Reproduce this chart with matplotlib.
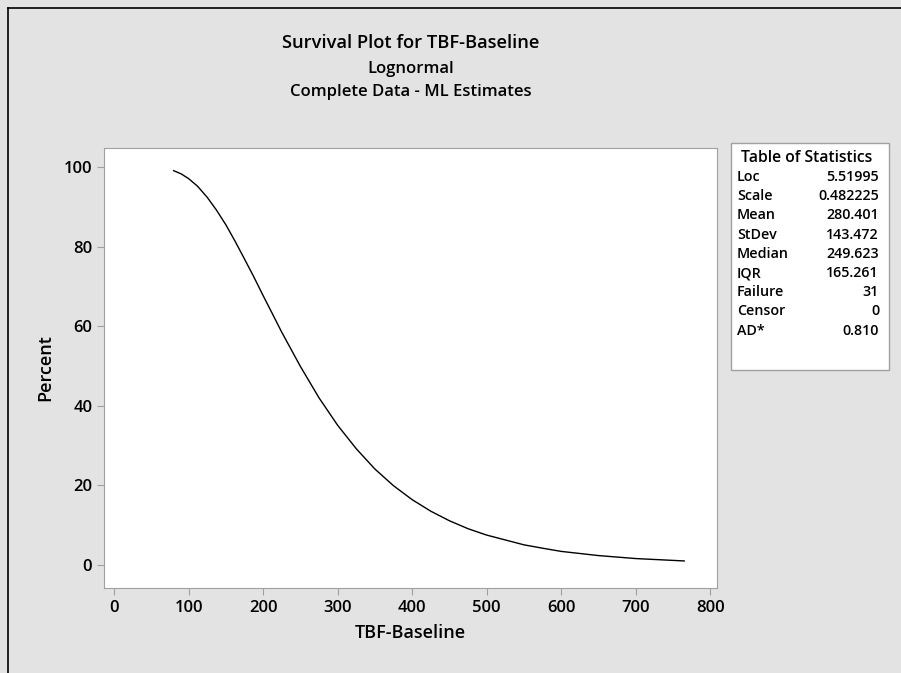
import matplotlib.pyplot as plt
from matplotlib.patches import Rectangle
from matplotlib.lines import Line2D

# curve (TBF-Baseline vs survival percent)
tbf = [80, 90, 100, 112, 125, 137, 150, 162, 175, 187, 200, 212, 225, 250,
       275, 300, 325, 350, 375, 400, 425, 450, 475, 500, 550, 575, 600, 650,
       700, 765]
percent = [99.1, 98.3, 97.1, 95.2, 92.4, 89.3, 85.5, 81.5, 76.9, 72.6, 67.7,
           63.3, 58.5, 49.9, 42.0, 35.1, 29.2, 24.1, 19.9, 16.4, 13.5, 11.1,
           9.1, 7.5, 5.05, 4.2, 3.4, 2.35, 1.6, 1.0]

xticks = [0, 100, 200, 300, 400, 500, 600, 700, 800]
yticks = [0, 20, 40, 60, 80, 100]

stat_names = ["Loc", "Scale", "Mean", "StDev", "Median", "IQR", "Failure",
              "Censor", "AD*"]
stat_values = ["5.51995", "0.482225", "280.401", "143.472", "249.623",
               "165.261", "31", "0", "0.810"]

plt.rcParams['font.family'] = ['Open Sans', 'DejaVu Sans']
W, H = 901, 673
fig = plt.figure(figsize=(W / 100, H / 100), dpi=100, facecolor='#e3e3e3')

def fx(px):
    return px / W

def fy(py):
    return 1 - py / H

ax = fig.add_axes([fx(104), fy(588), (717 - 104) / W, (588 - 148) / H])
ax.set_facecolor('white')
ax.plot(tbf, percent, color='black', lw=1.0)
ax.set_xlim(-13.5, 809)
ax.set_ylim(-5.8, 104.8)
ax.set_xticks(xticks)
ax.set_yticks(yticks)
for s in ax.spines.values():
    s.set_color('#a0a0a0')
ax.tick_params(colors='#a0a0a0', labelcolor='black', length=5, labelsize=12)
for lab in ax.get_xticklabels() + ax.get_yticklabels():
    lab.set_fontweight('semibold')
ax.set_xlabel("TBF-Baseline", fontsize=13, fontweight='semibold', labelpad=6)
ax.set_ylabel("Percent", fontsize=13, fontweight='semibold', labelpad=7)

cx = fx(411)
fig.text(cx, fy(43), "Survival Plot for TBF-Baseline", ha='center', va='center',
         fontsize=13.2, fontweight='semibold')
fig.text(cx, fy(69), "Lognormal", ha='center', va='center', fontsize=12,
         fontweight='semibold')
fig.text(cx, fy(92), "Complete Data - ML Estimates", ha='center', va='center',
         fontsize=12, fontweight='semibold')

# table of statistics
fig.patches.append(Rectangle((fx(731), fy(370)), (889 - 731) / W, (370 - 143) / H,
                             transform=fig.transFigure, facecolor='white',
                             edgecolor='#a0a0a0', lw=1))
fig.text(fx(807), fy(158), "Table of Statistics", ha='center', va='center',
         fontsize=11.3, fontweight='semibold')
for i, (n, v) in enumerate(zip(stat_names, stat_values)):
    y = fy(177 + i * 19.2)
    fig.text(fx(737), y, n, ha='left', va='center', fontsize=10.3,
             fontweight='semibold')
    fig.text(fx(879), y, v, ha='right', va='center', fontsize=10.3,
             fontweight='semibold')

# outer frame lines (top and left)
fig.lines.append(Line2D([fx(8), 1], [fy(8), fy(8)], transform=fig.transFigure,
                        color='black', lw=1.2))
fig.lines.append(Line2D([fx(8), fx(8)], [fy(8), 0], transform=fig.transFigure,
                        color='black', lw=1.2))

fig.savefig("out.png", dpi=100, facecolor=fig.get_facecolor())
